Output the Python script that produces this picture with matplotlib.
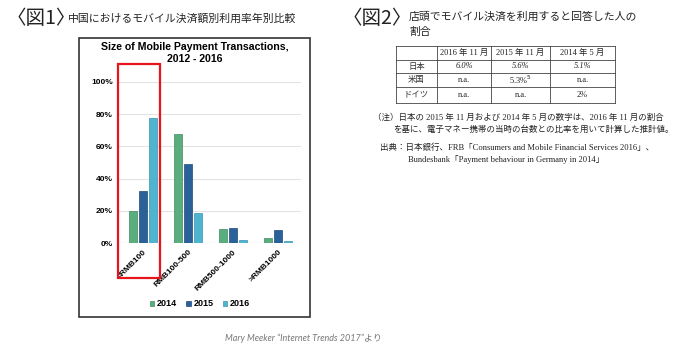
import matplotlib.pyplot as plt
import numpy as np
from matplotlib.patches import Rectangle
from matplotlib.lines import Line2D

# chart data (Mary Meeker, Internet Trends 2017)
categories = ["<RMB100", "RMB100-500", "RMB500-1000", ">RMB1000"]
years = ["2014", "2015", "2016"]
share_2014 = [20, 67.5, 8.5, 3]
share_2015 = [32.5, 49, 9.5, 8]
share_2016 = [77.5, 18.5, 2, 1.5]
yticks = [0, 20, 40, 60, 80, 100]

# table data (fig 2)
tbl_header = ["", "2016 年 11 月", "2015 年 11 月", "2014 年 5 月"]
tbl_rows = ["日本", "米国", "ドイツ"]
tbl_values = [["6.0%", "5.6%", "5.1%"],
              ["n.a.", "5.3%$^5$", "n.a."],
              ["n.a.", "n.a.", "2%"]]

colors = ["#5aad7d", "#2a6199", "#4fb4cf"]
edges = ["#3f8a5e", "#1d4a78", "#3795b0"]

W, H = 700, 350
JP = ["Noto Sans CJK JP", "DejaVu Sans"]
SERIF_JP = ["Liberation Serif", "Noto Sans CJK JP"]
plt.rcParams["font.family"] = ["Liberation Sans", "Noto Sans CJK JP"]

fig = plt.figure(figsize=(7, 3.5), dpi=100)


def fx(x):
    return x / W


def fy(y):
    return 1 - y / H


# headings
fig.text(fx(7), fy(18), "〈図1〉", fontsize=14, family=JP, va="center", color="#222222")
fig.text(fx(68), fy(19), "中国におけるモバイル決済額別利用率年別比較", fontsize=7.8,
         family=JP, va="center", color="#222222")
fig.text(fx(343), fy(18), "〈図2〉", fontsize=14, family=JP, va="center", color="#222222")
fig.text(fx(409), fy(17), "店頭でモバイル決済を利用すると回答した人の", fontsize=7.8,
         family=JP, va="center", color="#222222")
fig.text(fx(409), fy(32), "割合", fontsize=7.8, family=JP, va="center", color="#222222")

# panel frame
fig.add_artist(Rectangle((fx(79), fy(317)), fx(310 - 79), (317 - 38) / H,
                         transform=fig.transFigure, fill=False,
                         edgecolor="#333333", linewidth=1.2))
fig.text(fx(195), fy(53), "Size of Mobile Payment Transactions,\n2012 - 2016",
         ha="center", va="center", fontsize=7.6, fontweight="bold",
         linespacing=1.2)

# bar chart
left, right = 118.25, 300.5
ax = fig.add_axes([fx(left), fy(243), fx(right - left), (243 - 82) / H])
x = np.arange(len(categories))
w = 0.19
for i, vals in enumerate([share_2014, share_2015, share_2016]):
    ax.bar(x + (i - 1) * 0.22, vals, w, color=colors[i], edgecolor=edges[i],
           linewidth=0.5, label=years[i], zorder=3)
ax.set_xlim(-0.55, 3.5)
ax.set_ylim(0, 100)
ax.set_yticks(yticks)
ax.set_yticklabels([f"{t}%" for t in yticks], fontsize=6, fontweight="bold")
ax.yaxis.grid(True, color="#e3e3e3", linewidth=0.8, zorder=0)
ax.set_xticks(x)
ax.set_xticklabels(categories, rotation=45, ha="right", rotation_mode="anchor",
                   fontsize=6, fontweight="bold")
ax.tick_params(length=0, pad=4)
for s in ax.spines.values():
    s.set_visible(False)
ax.axhline(0, color="#d0d0d0", linewidth=0.8, zorder=2)

# red highlight box around the first group
ax.add_patch(Rectangle((-0.55, -22), 0.93, 133, fill=False, edgecolor="#e8141b",
                       linewidth=1.6, clip_on=False, zorder=5))

leg = fig.legend(loc="center", bbox_to_anchor=(fx(200), fy(304)), ncol=3,
                 frameon=False, fontsize=6.5, handlelength=0.5, handleheight=0.5,
                 handletextpad=0.3, columnspacing=1.0)
for t in leg.get_texts():
    t.set_fontweight("bold")

# table
tx = [396, 437, 491, 550, 615]
ty = [46, 60, 73, 87, 103]
lc = "#444444"
for xx in tx:
    fig.add_artist(Line2D([fx(xx), fx(xx)], [fy(ty[0]), fy(ty[-1])], color=lc, lw=0.6))
for yy in ty:
    fig.add_artist(Line2D([fx(tx[0]), fx(tx[-1])], [fy(yy), fy(yy)], color=lc, lw=0.6))
for c, txt in enumerate(tbl_header):
    fig.text(fx((tx[c] + tx[c + 1]) / 2), fy((ty[0] + ty[1]) / 2), txt, ha="center",
             va="center", fontsize=6, family=SERIF_JP, color="#222222")
for r, name in enumerate(tbl_rows):
    cy = fy((ty[r + 1] + ty[r + 2]) / 2)
    fig.text(fx((tx[0] + tx[1]) / 2), cy, name, ha="center", va="center",
             fontsize=6, family=SERIF_JP, color="#333333")
    for c, val in enumerate(tbl_values[r]):
        fig.text(fx((tx[c + 1] + tx[c + 2]) / 2), cy, val, ha="center", va="center",
                 fontsize=6, family=SERIF_JP, color="#222222",
                 style="italic" if r == 0 else "normal")

# notes
note_kw = dict(fontsize=6.1, family=SERIF_JP, va="center", color="#222222")
fig.text(fx(373), fy(118), "（注）日本の 2015 年 11 月および 2014 年 5 月の数字は、2016 年 11 月の割合",
         **note_kw)
fig.text(fx(393), fy(130), "を基に、電子マネー携帯の当時の台数との比率を用いて計算した推計値。",
         **note_kw)
fig.text(fx(380), fy(148), "出典：日本銀行、FRB「Consumers and Mobile Financial Services 2016」、",
         **note_kw)
fig.text(fx(408), fy(160), "Bundesbank「Payment behaviour in Germany in 2014」",
         **note_kw)

fig.text(fx(303), fy(338), "Mary Meeker “Internet Trends 2017”より", ha="center",
         va="center", fontsize=6.5, style="italic", color="#777777",
         family=["Lato", "Noto Sans CJK JP"])

fig.savefig("out.png", dpi=100)
